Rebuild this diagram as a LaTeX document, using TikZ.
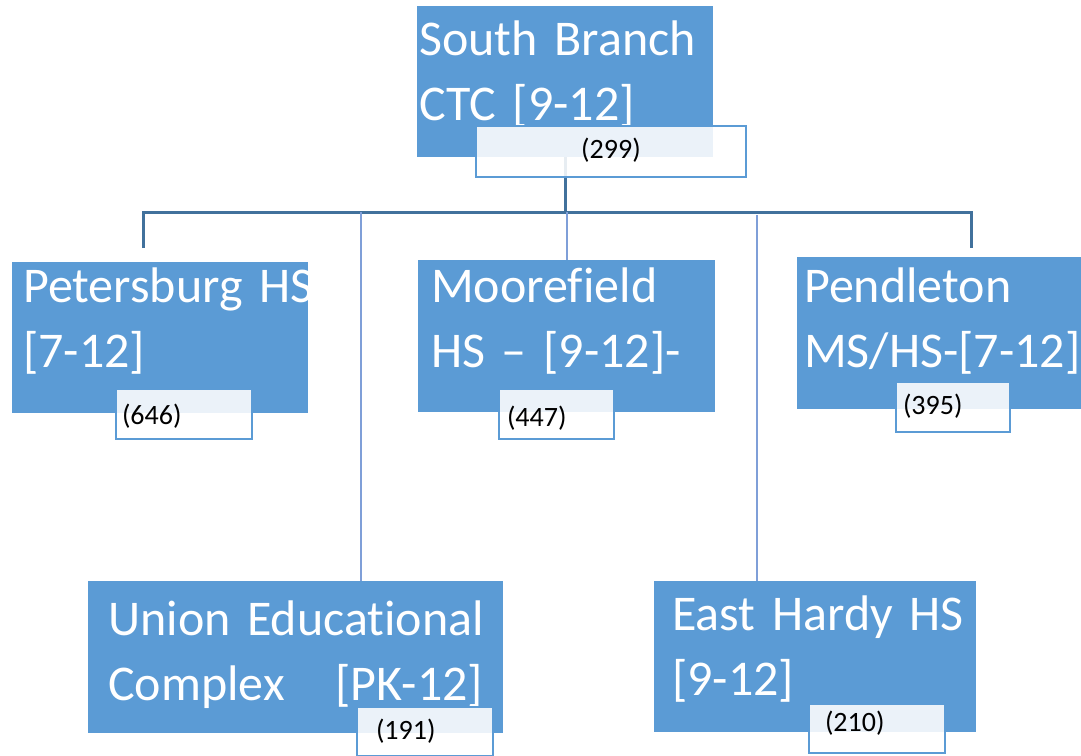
\documentclass[tikz,border=0pt]{standalone}
\usepackage{fontspec}
\setmainfont{Carlito}[Ligatures={TeX,NoCommon}]
\usepackage{tikz}
\usetikzlibrary{shapes,arrows,backgrounds}
\definecolor{boxBlue}{HTML}{5B9BD5}
\definecolor{lineDark}{HTML}{41719C}
\definecolor{lineLight}{HTML}{7F9FD8}
\tikzstyle{school} = [rectangle, fill=boxBlue, text=white, anchor=north west,
    align=left, inner ysep=0pt, font=\fontsize{50}{65}\selectfont]
\tikzstyle{countbox} = [rectangle, draw=boxBlue, line width=2pt, fill=white,
    fill opacity=0.88, text opacity=1, text=black, anchor=north west,
    align=left, inner ysep=0pt, font=\fontsize{28}{34}\selectfont]
\tikzstyle{busline} = [draw=lineDark, line width=3pt]
\tikzstyle{stemline} = [draw=lineLight, line width=2pt]

\begin{document}
\begin{tikzpicture}[x=1pt, y=-1pt]
    \useasboundingbox (0,0) rectangle (1081,755);
    % Place nodes
    \node [school, text width=292, inner xsep=2, text height=49, text depth=102] (southBranch) at (417,6) {South Branch\\CTC {[9-12]}};
    \node [school, text width=274, inner xsep=11, text height=40, text depth=111] (petersburg) at (12,262) {\mbox{Petersburg HS}\\{[7-12]}};
    \node [school, text width=271, inner xsep=13, text height=42, text depth=110] (moorefield) at (418,260) {Moorefield\\HS -- {[9-12]}-};
    \node [school, text width=270, inner xsep=7, text height=45, text depth=107] (pendleton) at (797,257) {Pendleton\\\mbox{MS/HS-[7-12]}};
    \node [school, text width=375, inner xsep=20, text height=54, text depth=98] (union) at (88,581) {\mbox{Union Educational}\\\mbox{Complex}\hfill\mbox{[PK-12]}};
    \node [school, text width=286, inner xsep=18, text height=49, text depth=102] (eastHardy) at (654,581) {\mbox{East Hardy HS}\\{[9-12]}};
    % Student counts
    \node [countbox, align=center, text width=270, inner xsep=0, text height=32, text depth=19] (countSouth) at (475,125) {(299)};
    \node [countbox, text width=124, inner xsep=6, text height=35, text depth=15] (countPetersburg) at (115,388) {(646)};
    \node [countbox, text width=99, inner xsep=8, text height=37, text depth=13] (countMoorefield) at (498,388) {(447)};
    \node [countbox, text width=100, inner xsep=7, text height=32, text depth=18] (countPendleton) at (895,381) {(395)};
    \node [countbox, text width=98, inner xsep=19, text height=32, text depth=17] (countUnion) at (356,706) {(191)};
    \node [countbox, text width=104, inner xsep=16, text height=27, text depth=22] (countEastHardy) at (808,703) {(210)};
    % Bus points
    \coordinate (busL) at (143,212);
    \coordinate (busR) at (971,212);
    \coordinate (dropL) at (143,248);
    \coordinate (dropR) at (971,248);
    \coordinate (jUnion) at (361,212);
    \coordinate (jEast) at (757,215);

    \begin{pgfonlayer}{background}
    \path [busline] (dropL) -- (busL) -- (busR) -- (dropR);
    \path [busline] (southBranch.south) -- (southBranch.south |- busL);
    \path [stemline] (busL -| moorefield.north) -- (moorefield.north);
    \path [stemline] (jUnion) -- (jUnion |- union.north);
    \path [stemline] (jEast) -- (jEast |- eastHardy.north);
    \end{pgfonlayer}
\end{tikzpicture}
\end{document}
